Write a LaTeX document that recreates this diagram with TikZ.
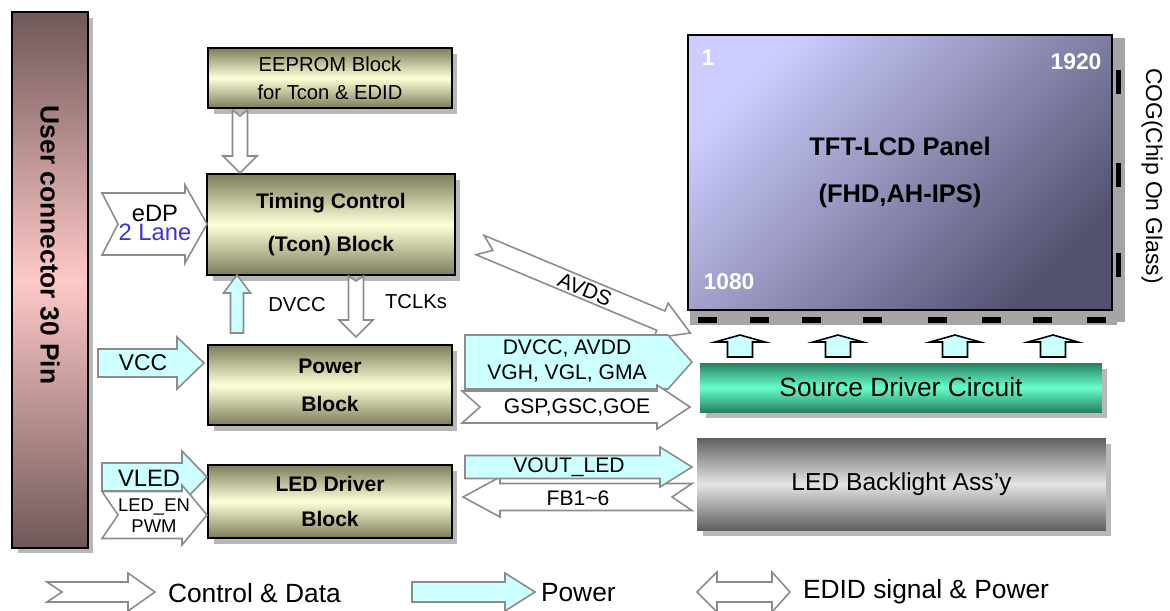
\documentclass[tikz,border=0pt]{standalone}
\usepackage{fontspec}
\setmainfont{Liberation Sans}
\usetikzlibrary{shadows}
\definecolor{BlockDark}{RGB}{125,125,92}
\definecolor{BlockLight}{RGB}{255,255,215}
\definecolor{ConnDark}{RGB}{112,88,88}
\definecolor{ConnLight}{RGB}{255,200,200}
\definecolor{PanelLight}{RGB}{205,205,255}
\definecolor{PanelDark}{RGB}{82,82,112}
\definecolor{SrcDark}{RGB}{40,128,96}
\definecolor{SrcLight}{RGB}{102,255,204}
\definecolor{BluDark}{RGB}{96,96,96}
\definecolor{BluLight}{RGB}{228,228,228}
\definecolor{PowerCyan}{RGB}{204,255,255}
\definecolor{ArrowGray}{RGB}{140,140,140}
\definecolor{LaneBlue}{RGB}{60,50,220}
\definecolor{StripGray}{RGB}{165,165,165}
% fat arrow: style, tail x, tip x, y, body half, head half, head length, notch
\newcommand{\blockarrow}[8]{%
  \draw[#1] (#2,#4-#5) -- ({#3-(#7)},#4-#5) -- ({#3-(#7)},#4-#6) -- (#3,#4)
    -- ({#3-(#7)},#4+#6) -- ({#3-(#7)},#4+#5) -- (#2,#4+#5) -- ({#2+(#8)},#4) -- cycle;}

\begin{document}
\begin{tikzpicture}[x=0.02cm, y=-0.02cm,
  every node/.style={inner sep=0pt, outer sep=0pt, align=center},
  shadowed/.style={drop shadow={shadow xshift=0.11cm, shadow yshift=-0.11cm, fill=black!28, opacity=1}},
  blk/.style={shadowed, draw=black, line width=1.4pt, minimum width=4.88cm,
    top color=BlockDark, bottom color=BlockDark, middle color=BlockLight},
  ctrl/.style={draw=ArrowGray, line width=0.9pt, fill=white, line join=miter},
  pwr/.style={draw=ArrowGray, line width=0.9pt, fill=PowerCyan, line join=miter},
  house/.style={draw=black, line width=0.9pt, fill=PowerCyan},
  tag/.style={font=\fontsize{12}{14.2}\selectfont},
  pixel/.style={font=\fontsize{13}{15}\selectfont\bfseries, text=white},
  legend/.style={font=\fontsize{15}{18}\selectfont, anchor=west}]
\useasboundingbox (0,0) rectangle (1170,610);
\fill[white] (0,0) rectangle (1170,610);

% user connector
\node[shadowed, draw=black, line width=1.4pt, minimum width=1.52cm, minimum height=10.72cm,
      top color=ConnDark, bottom color=ConnDark, middle color=ConnLight] (conn) at (50,280) {};
\node[rotate=-90, font=\fontsize{15}{18}\selectfont\bfseries] (conntxt) at (50,245) {User connector 30 Pin};

% blocks
\node[blk, minimum height=1.2cm, font=\fontsize{11.5}{16}\selectfont] (eeprom) at (330,78) {EEPROM Block\\for Tcon \& EDID};
\node[blk, minimum width=4.96cm, minimum height=2.02cm, font=\fontsize{12}{24.4}\selectfont\bfseries] (tcon) at (331,224.5) {Timing Control\\(Tcon) Block};
\node[blk, minimum height=1.6cm, font=\fontsize{12}{21.5}\selectfont\bfseries] (power) at (330,385) {Power\\Block};
\node[blk, minimum height=1.46cm, font=\fontsize{12}{19.8}\selectfont\bfseries] (leddrv) at (330,501.5) {LED Driver\\Block};

% panel and COG strips
\fill[StripGray] (690,306) rectangle (1117,325);
\fill[StripGray] (1108,38) rectangle (1125,322);
\foreach \dx in {698,750,802,863,928,982,1033,1087}
  \fill[black] (\dx,317) rectangle ++(19,6);
\foreach \dy in {70,163,253}
  \fill[black] (1116,\dy) rectangle ++(5,24);
\node[draw=black, line width=1.2pt, minimum width=8.48cm, minimum height=5.5cm,
      top color=PanelLight, bottom color=PanelDark, shading angle=45,
      font=\fontsize{14.5}{26.6}\selectfont\bfseries] (panel) at (900,172.5) {TFT-LCD Panel\\(FHD,AH-IPS)};
\node[pixel] (pxfirst) at (708,58) {1};
\node[pixel] (pxwidth) at (1076,62) {1920};
\node[pixel] (pxheight) at (729,282) {1080};
\node[rotate=-90, font=\fontsize{13}{15}\selectfont] (cog) at (1152,176) {COG(Chip On Glass)};

% source driver and backlight
\node[shadowed, minimum width=8.04cm, minimum height=0.98cm, top color=SrcDark, bottom color=SrcDark,
      middle color=SrcLight, font=\fontsize{15}{18}\selectfont] (src) at (901,387.5) {Source Driver Circuit};
\node[shadowed, minimum width=8.18cm, minimum height=1.84cm, top color=BluDark, bottom color=BluDark,
      middle color=BluLight, font=\fontsize{14}{17}\selectfont] (blu) at (901.5,484) {LED Backlight Ass’y};

% inputs from the connector
\blockarrow{ctrl}{102}{207}{224}{31}{39}{22}{16}
\node[font=\fontsize{13.5}{11}\selectfont] (edp) at (155,223) {eDP\\\textcolor{LaneBlue}{2 Lane}};
\blockarrow{pwr}{98}{204}{363}{14}{26}{27}{0}
\node[font=\fontsize{13}{15}\selectfont] (vcc) at (143,363) {VCC};
\blockarrow{pwr}{102}{207}{477}{14}{26}{25}{0}
\node[font=\fontsize{13.5}{15}\selectfont] (vled) at (149,478) {VLED};
\blockarrow{ctrl}{102}{207}{515}{23.5}{30}{25}{16}
\node[font=\fontsize{10.5}{12}\selectfont] (leden) at (154,516) {LED\_EN\\PWM};

% between the blocks
\begin{scope}[shift={(240,110)}, rotate=-90]
  \blockarrow{ctrl}{0}{63}{0}{7.5}{17}{17}{6}
\end{scope}
\begin{scope}[shift={(237,333)}, rotate=90]
  \blockarrow{pwr}{0}{58}{0}{6.5}{13.5}{18}{0}
\end{scope}
\begin{scope}[shift={(356,276)}, rotate=-90]
  \blockarrow{ctrl}{0}{61}{0}{7.5}{17}{17}{5}
\end{scope}
\node[font=\fontsize{11.5}{14}\selectfont] (dvcc) at (297,305) {DVCC};
\node[font=\fontsize{11.5}{14}\selectfont] (tclk) at (416,302) {TCLKs};

% towards the panel
\begin{scope}[shift={(480,245)}, rotate=-22.7]
  \blockarrow{ctrl}{0}{228}{0}{10.5}{19}{32}{14}
  \node[rotate=-22.7, font=\fontsize{12}{14}\selectfont] (avds) at (114,0.5) {AVDS};
\end{scope}
\blockarrow{pwr}{465}{692}{362}{27}{27}{24}{0}
\node[tag] (pwrbus) at (567,361) {DVCC, AVDD\\VGH, VGL, GMA};
\blockarrow{ctrl}{462}{690}{407}{16}{22}{33}{18}
\node[tag] (gate) at (577,407) {GSP,GSC,GOE};
\blockarrow{ctrl}{692}{463}{497}{13.5}{20}{-37}{-20}
\node[tag] (fb) at (578,498) {FB1\textasciitilde 6};
\blockarrow{pwr}{465}{692}{467}{11.5}{20}{32}{0}
\node[tag] (vout) at (569,467) {VOUT\_LED};
\foreach \hx in {740,838,955,1053}{
  \begin{scope}[shift={(\hx,357)}, rotate=90]
    \blockarrow{house}{0}{22}{0}{12.5}{25}{7}{0}
  \end{scope}}

% legend
\blockarrow{ctrl}{47}{155}{592}{10}{19}{27}{15}
\node[legend] (lgctrl) at (168,593) {Control \& Data};
\blockarrow{pwr}{412}{535}{592}{10}{19}{30}{0}
\node[legend] (lgpwr) at (541,593) {Power};
\draw[ctrl] (697,592) -- (717,572) -- (717,582) -- (772,582) -- (772,572) -- (790,592)
  -- (772,612) -- (772,602) -- (717,602) -- (717,612) -- cycle;
\node[legend] (lgedid) at (803,592) {EDID signal \& Power};
\end{tikzpicture}
\end{document}
